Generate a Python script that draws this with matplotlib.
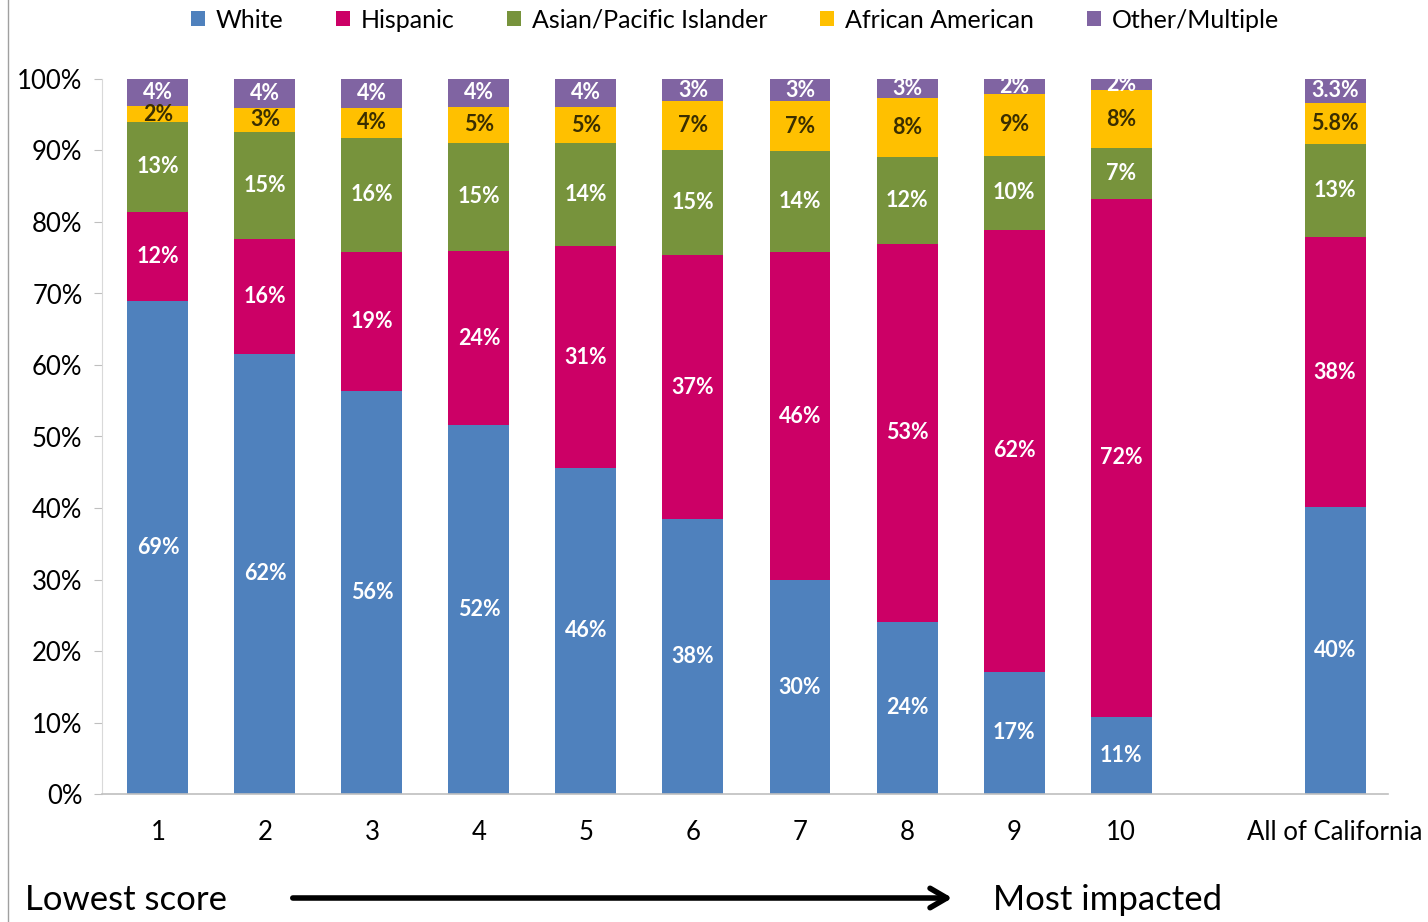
import matplotlib
matplotlib.use("Agg")
import matplotlib.pyplot as plt
from matplotlib.patches import Patch
import numpy as np

plt.rcParams['font.family'] = ['Lato', 'DejaVu Sans']

categories = ["1", "2", "3", "4", "5", "6", "7", "8", "9", "10", "All of California"]
positions = [1, 2, 3, 4, 5, 6, 7, 8, 9, 10, 12]

series_names = ["White", "Hispanic", "Asian/Pacific Islander", "African American", "Other/Multiple"]
white = [69.0, 61.6, 56.4, 51.6, 45.6, 38.4, 29.9, 24.1, 17.1, 10.8, 40.1]
hispanic = [12.4, 16.0, 19.4, 24.3, 31.0, 37.0, 45.9, 52.8, 61.8, 72.4, 37.8]
asian = [12.6, 15.0, 16.0, 15.2, 14.4, 14.6, 14.1, 12.2, 10.4, 7.2, 13.0]
african = [2.2, 3.4, 4.2, 5.0, 5.1, 6.9, 7.0, 8.2, 8.6, 8.0, 5.8]
other = [3.8, 4.0, 4.0, 3.9, 3.9, 3.1, 3.1, 2.7, 2.1, 1.6, 3.3]

colors = ["#4F81BD", "#CC0066", "#77933C", "#FFC000", "#8064A2"]
label_colors = ["white", "white", "white", "#3A2E00", "white"]

fig = plt.figure(figsize=(14.28, 9.22), dpi=100)
ax = fig.add_axes([102 / 1428, 1 - 794 / 922, (1388 - 102) / 1428, (794 - 79) / 922])

series = [white, hispanic, asian, african, other]
bottom = np.zeros(len(categories))
for vals, col, lcol, name in zip(series, colors, label_colors, series_names):
    vals = np.array(vals)
    ax.bar(positions, vals, width=0.57, bottom=bottom, color=col, label=name, zorder=2)
    for x, b, v, cat in zip(positions, bottom, vals, categories):
        if cat == "All of California" and v < 10:
            txt = f"{v:.1f}%"
        else:
            txt = f"{v:.0f}%"
        ax.text(x, b + v / 2, txt, ha="center", va="center", color=lcol,
                fontsize=15.5, fontweight="bold", zorder=3)
    bottom += vals

ax.set_xlim(0.477, 12.495)
ax.set_ylim(0, 100)
ax.set_xticks(positions)
ax.set_xticklabels(categories, fontsize=18.5)
ax.set_yticks(np.arange(0, 101, 10))
ax.set_yticklabels([f"{v}%" for v in range(0, 101, 10)], fontsize=18.5)
ax.tick_params(axis="x", length=0, pad=19)
ax.tick_params(axis="y", length=6, color="#BFBFBF", pad=8)
for s in ["top", "right"]:
    ax.spines[s].set_visible(False)
ax.spines["left"].set_color("#D9D9D9")
ax.spines["bottom"].set_color("#BFBFBF")
ax.spines["bottom"].set_linewidth(1.2)

handles = [Patch(facecolor=c, edgecolor="none") for c in colors]
fig.legend(handles, series_names, loc="center", bbox_to_anchor=(735 / 1428, 1 - 20 / 922),
           ncol=5, frameon=False, fontsize=18, handlelength=0.55, handleheight=0.55,
           handletextpad=0.45, columnspacing=2.1)

fig.text(25 / 1428, 1 - 900 / 922, "Lowest score", fontsize=25, ha="left", va="center")
fig.text(993 / 1428, 1 - 900 / 922, "Most impacted", fontsize=25, ha="left", va="center")
fig.add_artist(matplotlib.patches.FancyArrowPatch(
    (290 / 1428, 1 - 898 / 922), (955 / 1428, 1 - 898 / 922), transform=fig.transFigure,
    arrowstyle="->,head_length=12,head_width=7", lw=4, color="black", mutation_scale=1))
fig.add_artist(plt.Line2D([8 / 1428, 8 / 1428], [0, 1], transform=fig.transFigure,
                          color="#A0A0A0", lw=1))

fig.savefig("out.png", dpi=100)
